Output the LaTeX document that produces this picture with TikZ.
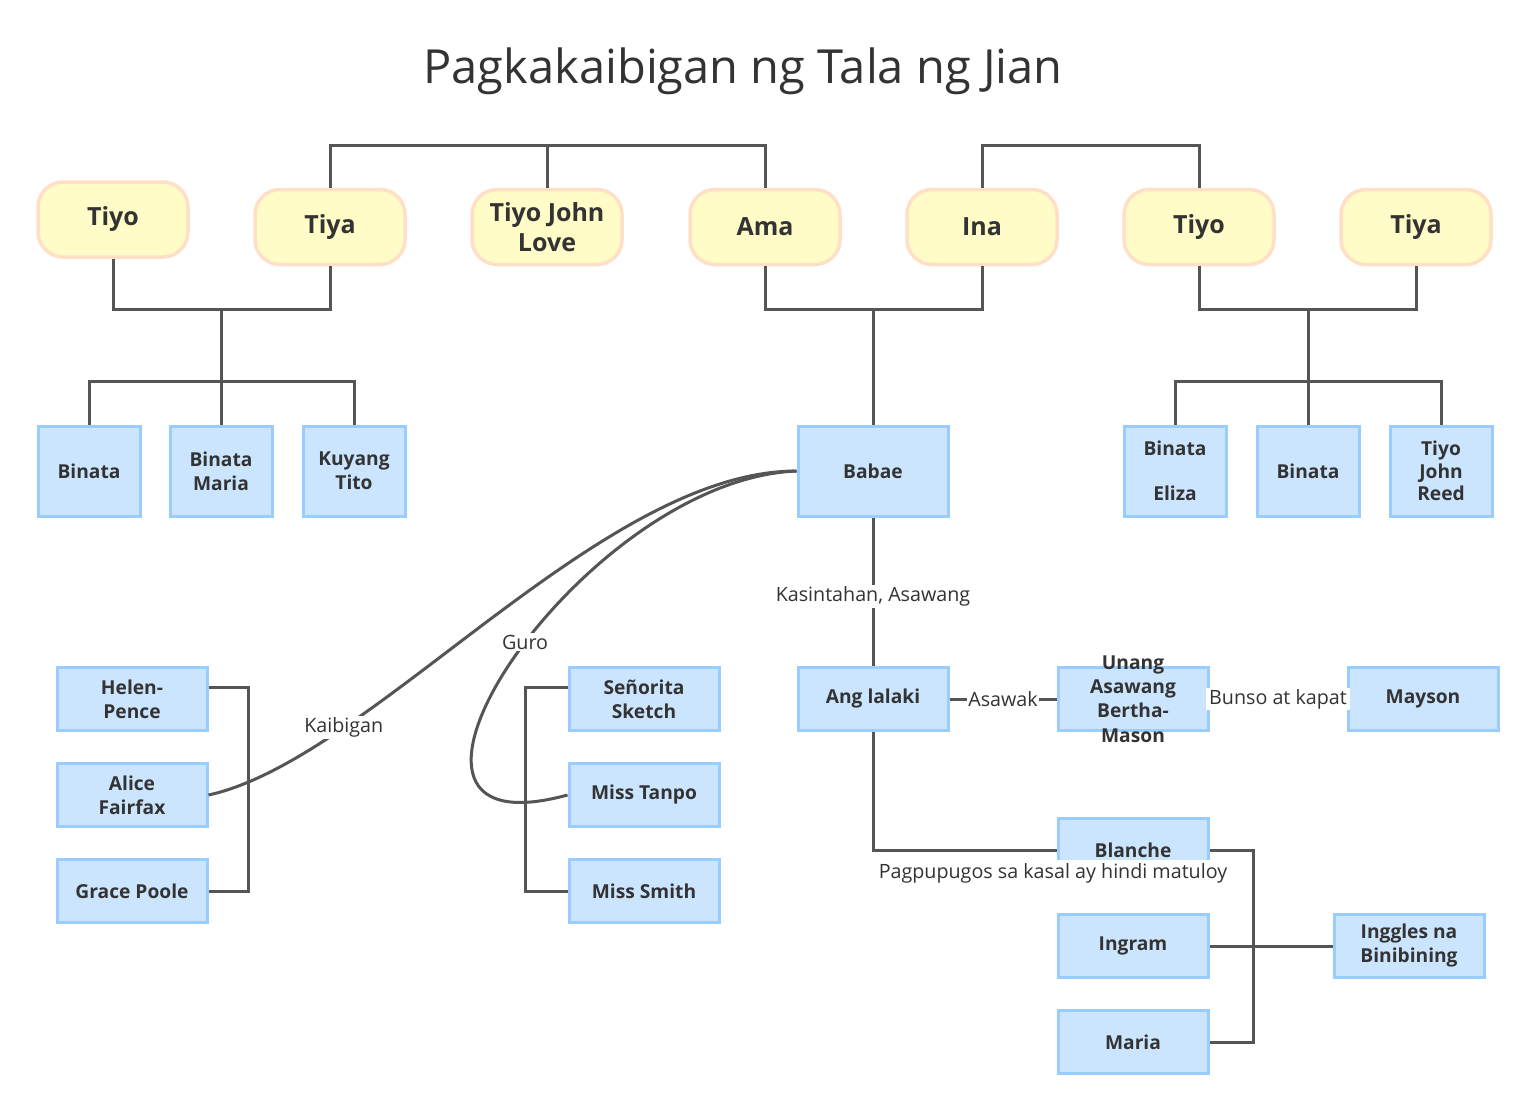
\documentclass[tikz,border=0pt]{standalone}
\usepackage{fontspec}
\setmainfont{Open Sans}
\usetikzlibrary{calc}
\definecolor{ln}{HTML}{555555}
\definecolor{tx}{HTML}{333333}
\definecolor{yf}{HTML}{FFFCC8}
\definecolor{yb}{HTML}{FFDFC6}
\definecolor{bf}{HTML}{CCE5FF}
\definecolor{bb}{HTML}{99CCFF}
\begin{document}
\begin{tikzpicture}[x=1pt,y=-1pt,
 yel/.style={draw=yb, fill=yf, line width=3.5pt, rounded corners=25pt, minimum width=150pt, minimum height=75pt, font=\fontsize{25}{30}\selectfont\bfseries, text=tx, align=center, inner sep=0pt},
 blu/.style={draw=bb, fill=bf, line width=3pt, minimum width=150pt, minimum height=63pt, font=\fontsize{19.2}{24}\selectfont\bfseries, text=tx, align=center, inner sep=0pt},
 btxt/.style={font=\fontsize{19.2}{24.3}\selectfont\bfseries, text=tx, align=center, inner sep=0pt},
 sm/.style={blu, minimum width=102pt, minimum height=90pt},
 con/.style={draw=ln, line width=3pt},
 lbl/.style={fill=white, font=\fontsize{19.7}{22}\selectfont, text=tx, inner sep=1.5pt}
]
\fill[white] (0,0) rectangle (1535,1111);
\path[use as bounding box] (0,0) rectangle (1535,1111);

\node[font=\fontsize{47}{52}\selectfont, text=tx] (title) at (743,71) {Pagkakaibigan ng Tala ng Jian};

% top row
\node[yel] (tiyoA) at (113,219.5) {Tiyo};
\node[yel] (tiyaA) at (330,227) {Tiya};
\node[yel] (tjl) at (547,227) {Tiyo John\\Love};
\node[yel] (ama) at (765,227) {Ama};
\node[yel] (ina) at (982,227) {Ina};
\node[yel] (tiyoB) at (1199,227) {Tiyo};
\node[yel] (tiyaB) at (1416,227) {Tiya};

% second row
\node[sm] (b1) at (89,471) {Binata};
\node[sm] (b2) at (221,471) {Binata\\Maria};
\node[sm] (b3) at (354,471) {Kuyang\\Tito};
\node[blu, minimum height=90pt] (babae) at (873,471) {Babae};
\node[sm, font=\fontsize{19.2}{22.5}\selectfont\bfseries] (r1) at (1175,471) {Binata\\\mbox{}\\Eliza};
\node[sm] (r2) at (1308,471) {Binata};
\node[sm, font=\fontsize{19.2}{22.5}\selectfont\bfseries] (r3) at (1441,471) {Tiyo\\John\\Reed};

% left groups
\node[blu] (helen) at (132,699) {Helen-\\Pence};
\node[blu] (alice) at (132,795) {Alice\\Fairfax};
\node[blu] (grace) at (132,891) {Grace Poole};
\node[blu] (senorita) at (644,699) {Señorita\\Sketch};
\node[blu] (tanpo) at (644,795) {Miss Tanpo};
\node[blu] (smith) at (644,891) {Miss Smith};

% right groups
\node[blu] (lalaki) at (873,699) {Ang lalaki};
\node[blu] (unang) at (1133,699) {};
\node[btxt] (unangT) at (unang.center) {Unang\\Asawang\\Bertha-\\Mason};
\node[blu] (mayson) at (1423,699) {Mayson};
\node[blu] (blanche) at (1133,850) {Blanche};
\node[blu] (ingram) at (1133,946) {Ingram};
\node[blu] (maria) at (1133,1042) {Maria};
\node[blu] (inggles) at (1409,946) {Inggles na\\Binibining};

% coordinates
\coordinate (jL) at (547,145);
\coordinate (jR) at (1199,145);
\coordinate (f1) at (221,309);
\coordinate (c1) at (221,381);
\coordinate (f2) at (873,309);
\coordinate (f3) at (1308,309);
\coordinate (c3) at (1308,381);
\coordinate (hb) at (248,891);
\coordinate (sb) at (525,891);
\coordinate (bj) at (1253,946);

% top connectors
\draw[con] (tiyaA.north) |- (jL) -| (ama.north);
\draw[con] (tjl.north) -- (jL);
\draw[con] (ina.north) |- (jR) -- (tiyoB.north);

% families
\draw[con] (tiyoA.south) |- (f1) -| (tiyaA.south);
\draw[con] (f1) -- (b2.north);
\draw[con] (b1.north) |- (c1) -| (b3.north);
\draw[con] (ama.south) |- (f2) -| (ina.south);
\draw[con] (f2) -- (babae.north);
\draw[con] (tiyoB.south) |- (f3) -| (tiyaB.south);
\draw[con] (f3) -- (r2.north);
\draw[con] (r1.north) |- (c3) -| (r3.north);

% brackets
\draw[con] ([yshift=12pt]helen.east) -| (hb) -- (grace.east);
\draw[con] ([yshift=12pt]senorita.west) -| (sb) -- (smith.west);

% curves
\draw[con] (babae.west) .. controls (600,471) and (370,760) .. (alice.east)
  node[lbl, pos=0.745] (kaib) {Kaibigan};
\draw[con] (babae.west) .. controls (580,480) and (330,860) .. (tanpo.west)
  node[lbl, pos=0.465] (guro) {Guro};

% right side
\draw[con] (babae.south) -- node[lbl, pos=0.53] (kas) {Kasintahan, Asawang} (lalaki.north);
\draw[con] (lalaki.east) -- node[lbl, inner sep=1pt] (asw) {Asawak} (unang.west);
\draw[con] (unang.east) -- node[lbl, inner xsep=3pt, inner ysep=1pt] (bun) {Bunso at kapat} (mayson.west);
\draw[con] (lalaki.south) |- (blanche.west);
\draw[con] (blanche.east) -| (bj) |- (maria.east);
\draw[con] (ingram.east) -- (inggles.west);
\node[lbl, inner sep=3pt] (pag) at (1053,873) {Pagpupugos sa kasal ay hindi matuloy};
\end{tikzpicture}
\end{document}
